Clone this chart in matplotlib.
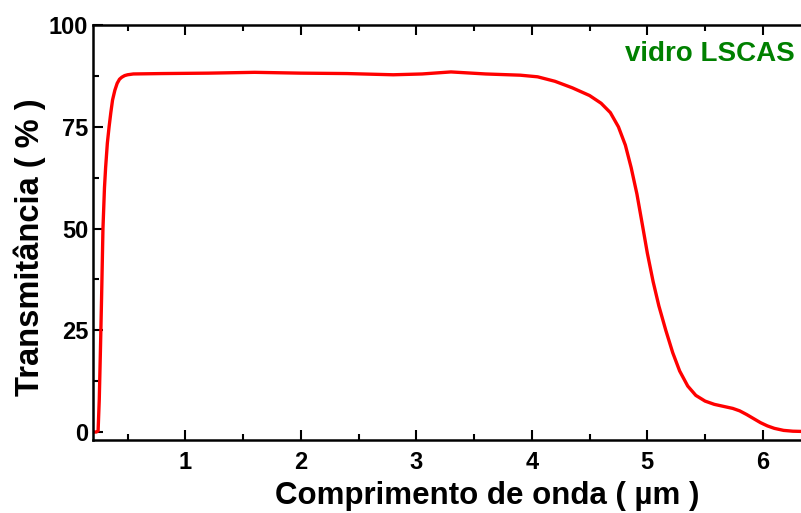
import matplotlib
matplotlib.use("Agg")
import matplotlib.pyplot as plt
from matplotlib.ticker import MultipleLocator

wavelength = [0.20, 0.23, 0.245, 0.255, 0.265, 0.275, 0.287, 0.30, 0.31, 0.325, 0.34, 0.355,
              0.37, 0.39, 0.41, 0.43, 0.45, 0.475, 0.50, 0.55, 0.8, 1.2, 1.6, 2.0, 2.4,
              2.8, 3.05, 3.3, 3.6, 3.9, 4.05, 4.2, 4.35, 4.5, 4.6, 4.68, 4.75, 4.81,
              4.86, 4.91, 4.96, 5.0, 5.05, 5.10, 5.16, 5.22, 5.28, 5.35, 5.42, 5.50,
              5.58, 5.66, 5.74, 5.80, 5.86, 5.92, 5.98, 6.04, 6.10, 6.18, 6.26, 6.40]
transmittance = [0.0, 0.0, 0.3, 8, 20, 33, 50, 60, 65, 71, 75, 78.5,
                 81.6, 84.0, 85.7, 86.7, 87.2, 87.6, 87.8, 88.0, 88.1, 88.2, 88.4, 88.2, 88.1,
                 87.8, 88.0, 88.5, 88.0, 87.7, 87.3, 86.2, 84.6, 82.7, 80.8, 78.5, 75.0, 70.5,
                 65.0, 58.5, 50.5, 44.0, 37.0, 31.0, 25.0, 19.5, 15.0, 11.3, 9.0, 7.6,
                 6.8, 6.3, 5.8, 5.2, 4.3, 3.3, 2.3, 1.5, 0.9, 0.4, 0.2, 0.1]

xticks = [1, 2, 3, 4, 5, 6]
yticks = [0, 25, 50, 75, 100]

plt.rcParams['font.family'] = ['Liberation Sans', 'DejaVu Sans']
plt.rcParams['font.weight'] = 'bold'

fig = plt.figure(figsize=(8.01, 5.13), dpi=100)
ax = fig.add_axes([0.116, 0.142, 0.884 + 0.01, 0.809])
ax.plot(wavelength, transmittance, color='#ff0000', lw=2.4, solid_joinstyle='round')
ax.set_xlim(0.2, 6.4)
ax.set_ylim(-2, 100)
ax.set_xticks(xticks)
ax.set_yticks(yticks)
ax.xaxis.set_minor_locator(MultipleLocator(0.5))
ax.yaxis.set_minor_locator(MultipleLocator(12.5))
ax.tick_params(which='both', direction='in', top=True, right=False, width=1.5,
               labelsize=17)
ax.tick_params(which='major', length=7)
ax.tick_params(which='minor', length=4)
ax.tick_params(axis='x', pad=8)
for lab in ax.get_xticklabels() + ax.get_yticklabels():
    lab.set_fontweight('bold')
for s in ['left', 'bottom', 'top']:
    ax.spines[s].set_linewidth(1.8)
ax.spines['right'].set_visible(False)
ax.set_xlabel('Comprimento de onda ( µm )', fontsize=22.5, fontweight='bold')
ax.set_ylabel('Transmitância ( % )', fontsize=23.5, fontweight='bold')
ax.xaxis.set_label_coords(0.55, -0.099)
ax.yaxis.set_label_coords(-0.065, 0.465)
ax.text(0.98, 0.93, 'vidro LSCAS', transform=ax.transAxes, ha='right', va='center',
        color='#008000', fontsize=20, fontweight='bold')
fig.savefig('out.png', dpi=100)
